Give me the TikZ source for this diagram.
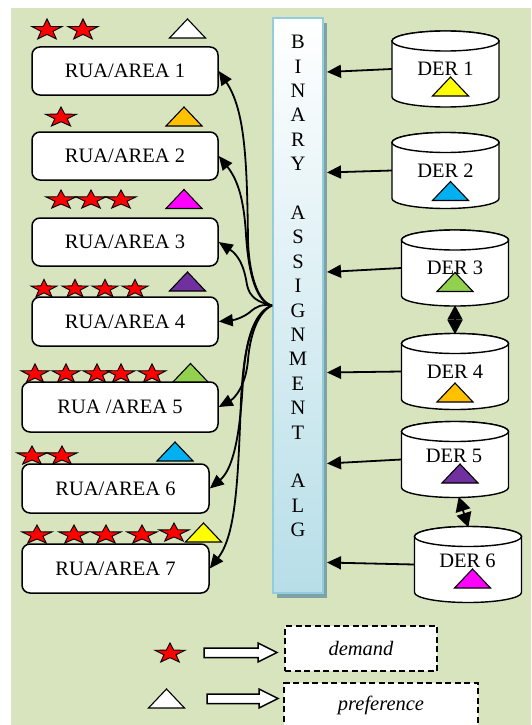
\documentclass[tikz,border=0pt]{standalone}
\usepackage{fontspec}
\setmainfont{Liberation Serif}
\usetikzlibrary{arrows.meta,calc}
\definecolor{bggreen}{HTML}{D7E4BD}
\definecolor{colborder}{HTML}{93CDDD}
\definecolor{colbottom}{HTML}{B7DEE8}
\definecolor{colshadow}{HTML}{7FA2A4}
\definecolor{tOrange}{HTML}{FFC000}
\definecolor{tMagenta}{HTML}{FF00FF}
\definecolor{tPurple}{HTML}{7030A0}
\definecolor{tGreen}{HTML}{92D050}
\definecolor{tBlue}{HTML}{00B0F0}
\definecolor{tYellow}{HTML}{FFFF00}
\tikzset{
  bigfont/.style={font=\fontsize{20.5}{24}\selectfont},
  ruabox/.style={draw, line width=1.5pt, fill=white, rounded corners=8pt, inner sep=0pt, bigfont},
  colbox/.style={draw=colborder, line width=2pt, top color=white, bottom color=colbottom, minimum width=50pt, minimum height=575pt, inner sep=0pt},
  colletter/.style={inner sep=0pt, bigfont},
  cylpath/.style={draw, line width=1.4pt, fill=white},
  dernode/.style={minimum width=107pt, minimum height=76pt, inner sep=0pt, bigfont},
  curv/.style={line width=1.8pt, -{Triangle[length=14pt,width=12pt]}},
  derarr/.style={line width=1.8pt, -{Triangle[length=14pt,width=13pt]}},
  dblarr/.style={line width=1.8pt, shorten <=-1pt, shorten >=-1pt, {Triangle[length=14.5pt,width=15pt]}-{Triangle[length=14.5pt,width=15pt]}},
  blockarr/.style={draw, line width=1.5pt, fill=white},
  legbox/.style={draw, dash pattern=on 6pt off 3.5pt, line width=1.8pt, fill=white, inner sep=0pt, minimum height=45pt, font=\fontsize{20.5}{24}\selectfont\itshape},
  pics/rstar/.style={code={\draw[line width=0.9pt, fill=red] (-90:1) -- (-54:0.4) -- (-18:1) -- (18:0.4) -- (54:1) -- (90:0.4) -- (126:1) -- (162:0.4) -- (198:1) -- (234:0.4) -- cycle;}},
  pics/tri/.style={code={\draw[line width=1.1pt, fill=#1] (-18,9.5) -- (18,9.5) -- (0,-9.5) -- cycle;}}
}
\newcommand\dercyl[2]{%
  \filldraw[cylpath] (#1-53.5,#2-28) -- (#1-53.5,#2+28) arc[start angle=180,end angle=360,x radius=53.5pt,y radius=10pt] -- (#1+53.5,#2-28) arc[start angle=0,end angle=180,x radius=53.5pt,y radius=10pt] -- cycle;
  \draw[cylpath] (#1,#2-28) ellipse[x radius=53.5pt,y radius=10pt];}
\begin{document}
\begin{tikzpicture}[x=1pt,y=-1pt]
\useasboundingbox (0,0) rectangle (531,725);
\clip (0,0) rectangle (531,725);
\fill[bggreen] (11,8) rectangle (531,725);

% stars
\foreach \x in {47,83} \pic[xscale=15.8,yscale=11] at (\x,30) {rstar};
\pic[xscale=16.3,yscale=10.5] at (61,117.5) {rstar};
\foreach \x in {61,91,121} \pic[xscale=15.8,yscale=10] at (\x,200) {rstar};
\foreach \x in {44,75,105,135} \pic[xscale=13.6,yscale=9.6] at (\x,289) {rstar};
\foreach \x in {35,66,97,121,152} \pic[xscale=14.6,yscale=10.2] at (\x,374) {rstar};
\foreach \x in {32,62} \pic[xscale=15.8,yscale=10] at (\x,456) {rstar};
\foreach \x in {37,74,106,142} \pic[xscale=15.8,yscale=10] at (\x,535) {rstar};
\pic[xscale=15.8,yscale=10] at (174,533) {rstar};

% triangles (areas)
\pic at (187.5,28.5) {tri=white};
\pic at (184,116.5) {tri=tOrange};
\pic at (184,199) {tri=tMagenta};
\pic at (187.5,281.5) {tri=tPurple};
\pic at (190.5,373) {tri=tGreen};
\pic at (175,451.5) {tri=tBlue};
\pic at (203.5,532.5) {tri=tYellow};

% area boxes
\node[ruabox, minimum width=186pt, minimum height=48pt] (box1) at (125,71) {RUA/AREA 1};
\node[ruabox, minimum width=186pt, minimum height=48pt] (box2) at (125,156) {RUA/AREA 2};
\node[ruabox, minimum width=186pt, minimum height=48pt] (box3) at (125,242) {RUA/AREA 3};
\node[ruabox, minimum width=186pt, minimum height=49pt] (box4) at (125,321.5) {RUA/AREA 4};
\node[ruabox, minimum width=196pt, minimum height=50pt] (box5) at (120,407) {RUA /AREA 5};
\node[ruabox, minimum width=187pt, minimum height=49pt] (box6) at (115.5,488.5) {RUA/AREA 6};
\node[ruabox, minimum width=187pt, minimum height=49pt] (box7) at (115.5,568.5) {RUA/AREA 7};

% central column
\fill[colshadow] (277,23) rectangle (327,598);
\node[colbox] (col) at (298,305.5) {};
\foreach \ch/\k in {B/0,I/1,N/2,A/3,R/4,Y/5,A/7,S/8,S/9,I/10,G/11,N/12,M/13,E/14,N/15,T/16,A/18,L/19,G/20}
  \node[colletter] (l\k) at (298,{42+24.4*\k}) {\ch};

% DER cylinders
\dercyl{445.5}{69}
\node[dernode] (der1) at (445.5,69) {DER 1};
\pic at (450.5,86.5) {tri=tYellow};
\dercyl{445.5}{170.5}
\node[dernode] (der2) at (445.5,170.5) {DER 2};
\pic at (450.5,191) {tri=tBlue};
\dercyl{455}{268}
\node[dernode] (der3) at (455,268) {DER 3};
\pic at (455,282) {tri=tGreen};
\dercyl{455}{371.5}
\node[dernode] (der4) at (455,371.5) {DER 4};
\pic at (455,392.5) {tri=tOrange};
\dercyl{455}{459.5}
\node[dernode] (der5) at (455,459.5) {};
\node[bigfont, inner sep=0pt] (der5t) at (454,456) {DER 5};
\pic at (460,473.5) {tri=tPurple};
\dercyl{468}{564.5}
\node[dernode] (der6) at (468,564.5) {};
\node[bigfont, inner sep=0pt] (der6t) at (467.5,561) {DER 6};
\pic at (472.5,578.5) {tri=tMagenta};

% DER -> column
\draw[derarr] (der1.west) -- ($(col.east |- der1.west)+(3,3)$);
\draw[derarr] (der2.west) -- ($(col.east |- der2.west)+(3,2)$);
\draw[derarr] (der3.west) -- ($(col.east |- der3.west)+(3,4)$);
\draw[derarr] (der4.west) -- ($(col.east |- der4.west)+(3,1)$);
\draw[derarr] (der5.west) -- ($(col.east |- der5.west)+(3,4)$);
\draw[derarr] (der6.west) -- ($(col.east |- der6.west)+(3,-2)$);

% DER links
\draw[dblarr] (der3.south) -- (der4.north);
\draw[dblarr] ([xshift=4pt]der5.south) -- (der6.north);

% column -> areas
\draw[curv] (col.west) .. controls (258,302) and (249,275) .. (248,240) .. controls (247,160) and (245,110) .. (box1.east);
\draw[curv] (col.west) .. controls (258,302) and (249,280) .. (246,235) .. controls (244,200) and (238,180) .. (box2.east);
\draw[curv] (col.west) .. controls (258,302) and (250,298) .. (247,285) .. controls (244,265) and (238,255) .. (box3.east);
\draw[curv] (col.west) .. controls (262,304) and (257,306) .. (250,312) .. controls (244,317) and (235,320) .. (box4.east);
\draw[curv] (col.west) .. controls (258,312) and (250,335) .. (248,360) .. controls (246,385) and (235,398) .. (box5.east);
\draw[curv] (col.west) .. controls (256,312) and (246,335) .. (243,380) .. controls (240,440) and (232,470) .. (box6.east);
\draw[curv] (col.west) .. controls (254,312) and (244,340) .. (241,400) .. controls (238,480) and (236,535) .. (box7.east);

% legend
\pic[xscale=15.8,yscale=10.5] at (170,653.5) {rstar};
\draw[blockarr] (204,648) -- (258,648) -- (258,643) -- (277,652.5) -- (258,662) -- (258,657.5) -- (204,657.5) -- cycle;
\node[legbox, minimum width=152pt] (demand) at (361,648.5) {demand};
\pic at (166.5,698.5) {tri=white};
\draw[blockarr] (207,694) -- (259,694) -- (259,689) -- (278,698.5) -- (259,708) -- (259,703.5) -- (207,703.5) -- cycle;
\node[legbox, minimum width=194pt] (pref) at (381,705.5) {preference};
\end{tikzpicture}
\end{document}
